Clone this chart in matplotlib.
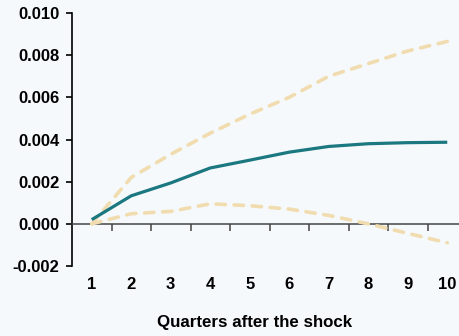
import matplotlib

matplotlib.use("Agg")
import matplotlib.pyplot as plt

# Respuesta al impulso con bandas de confianza
trimestres = [1, 2, 3, 4, 5, 6, 7, 8, 9, 10]
respuesta = [0.0002, 0.00133, 0.00194, 0.00265, 0.00302, 0.0034, 0.00367, 0.0038, 0.00385, 0.00387]
banda_sup = [0.0, 0.0022, 0.0033, 0.0043, 0.0052, 0.0060, 0.0070, 0.0076, 0.0082, 0.00865]
banda_inf = [0.0, 0.00048, 0.00059, 0.00095, 0.00086, 0.0007, 0.0004, 0.0, -0.00045, -0.0009]
yticks = [-0.002, 0.0, 0.002, 0.004, 0.006, 0.008, 0.010]

plt.rcParams["font.family"] = ["Liberation Sans", "DejaVu Sans"]
plt.rcParams["font.weight"] = "bold"

fondo = "#f5f9fb"
fig = plt.figure(figsize=(4.6, 3.36), dpi=100, facecolor=fondo)
ax = fig.add_axes([72 / 460, 1 - 266 / 336, 395 / 460, 253 / 336], facecolor=fondo)

ax.plot(trimestres, banda_sup, color="#f1dcb0", lw=2.6, dashes=(2.6, 2.4),
        dash_capstyle="round", zorder=3)
ax.plot(trimestres, banda_inf, color="#f1dcb0", lw=2.6, dashes=(2.6, 2.4),
        dash_capstyle="round", zorder=3)
ax.plot(trimestres, respuesta, color="#1b7880", lw=2.3, solid_capstyle="butt", zorder=4)

ax.set_xlim(0.5, 10.5)
ax.set_ylim(-0.002, 0.010)

for lado in ("top", "right"):
    ax.spines[lado].set_visible(False)
ax.spines["left"].set_linewidth(1.2)
ax.spines["bottom"].set_position(("data", 0))
ax.spines["bottom"].set_color("#444444")
ax.spines["bottom"].set_linewidth(1.1)

ax.set_yticks(yticks)
ax.set_yticklabels([f"{v:.3f}" for v in yticks])
ax.tick_params(axis="y", length=4, width=1.2, labelsize=12, pad=5)

ax.set_xticks(trimestres)
ax.set_xticklabels([str(t) for t in trimestres])
ax.set_xticks([t + 0.5 for t in trimestres[:-1]], minor=True)
ax.tick_params(axis="x", which="major", length=0, labelsize=12, pad=38)
ax.tick_params(axis="x", which="minor", length=5, width=1.1, color="#444444")

fig.text(255 / 460, 1 - 323 / 336, "Quarters after the shock", ha="center", va="center",
         fontsize=12.2, fontweight="bold")

fig.savefig("out.png", dpi=100, facecolor=fondo)
